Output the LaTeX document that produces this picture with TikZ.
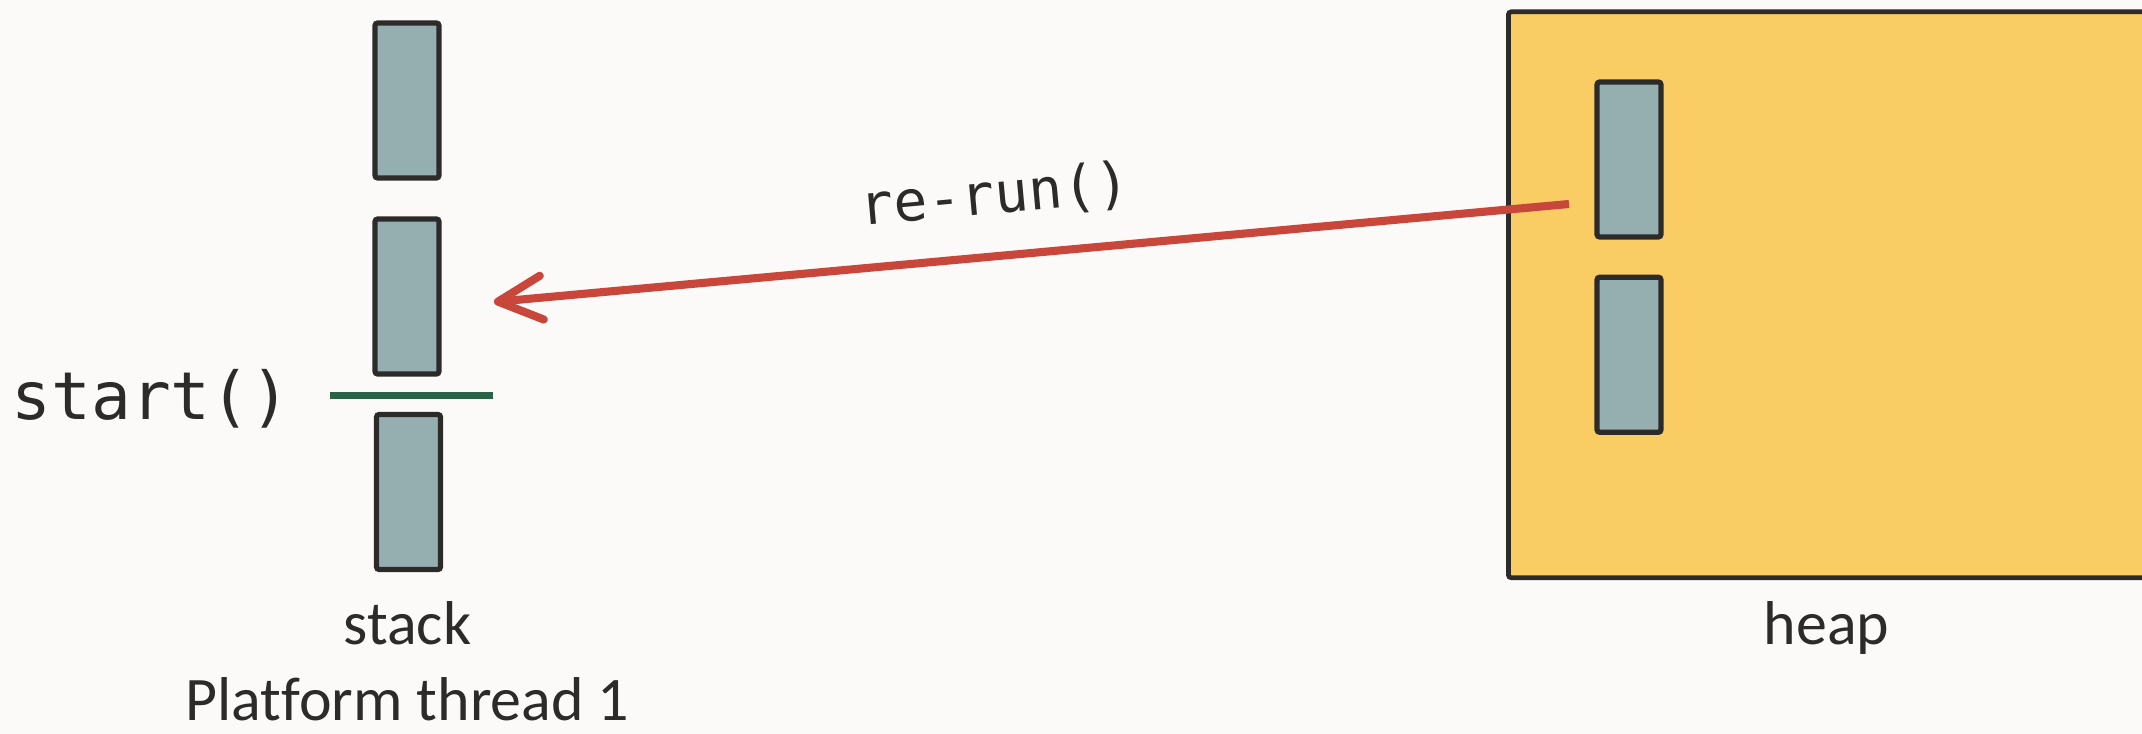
\documentclass[tikz,border=0pt]{standalone}
\usepackage{fontspec}
\setmainfont{Carlito}[Ligatures=NoCommon]
\newfontfamily\codefont{DejaVu Sans Mono}
\usetikzlibrary{arrows.meta}
\definecolor{bgc}{HTML}{FBFAF8}
\definecolor{framec}{HTML}{2D2B29}
\definecolor{slotc}{HTML}{95AFB0}
\definecolor{heapc}{HTML}{F9CD64}
\definecolor{markc}{HTML}{2A6446}
\definecolor{callc}{HTML}{C8473A}
\tikzset{
  slot/.style={draw=framec, fill=slotc, line width=1.5pt, rounded corners=0.8pt,
    minimum width=0.64cm, minimum height=1.55cm, inner sep=0pt},
  heapbox/.style={draw=framec, fill=heapc, line width=1.35pt, rounded corners=0.8pt,
    minimum width=6.6cm, minimum height=5.655cm, inner sep=0pt, anchor=north west},
  label/.style={text=framec, font=\fontsize{17.6pt}{20pt}\selectfont, inner sep=0pt, anchor=base},
  code/.style={text=framec, font=\codefont\fontsize{18.8pt}{21pt}\selectfont, inner sep=0pt, anchor=base},
  callcode/.style={text=framec, font=\codefont\fontsize{16pt}{19pt}\selectfont, inner sep=0pt},
  markline/.style={draw=markc, line width=2pt},
  callarrow/.style={draw=callc, line width=2.3pt,
    -{Straight Barb[length=12.5pt,width=12.5pt,line cap=round,line join=round]}},
}
\begin{document}
\begin{tikzpicture}[x=0.01cm,y=-0.01cm]
\fill[bgc] (0,0) rectangle (2142,734);
\useasboundingbox (0,0) rectangle (2142,734);
\clip (0,0) rectangle (2142,734);
% heap
\node[heapbox] (heap) at (1506,9.5) {};
\node[slot] (h1) at (1629,159.5) {};
\node[slot] (h2) at (1629,354.75) {};
% stack
\node[slot] (s1) at (407,100.5) {};
\node[slot] (s2) at (407,296.5) {};
\node[slot] (s3) at (408.5,492) {};
% start marker
\coordinate (ml) at (329.5,395.6);
\coordinate (mr) at (492.5,395.6);
\draw[markline] (ml) -- (mr);
\node[code] (start) at (151,420) {start()};
% labels
\node[label] (stacklbl) at (407.5,645) {stack};
\node[label] (thread) at (407.5,721) {Platform thread 1};
\node[label] (heaplbl) at (1826.5,645) {heap};
% call arrow
\coordinate (src) at (1569,204);
\coordinate (dst) at (494,302);
\draw[callarrow] (src) -- (dst);
\node[callcode, rotate=5.2] (rerun) at (995,196) {re-run()};
\end{tikzpicture}
\end{document}
